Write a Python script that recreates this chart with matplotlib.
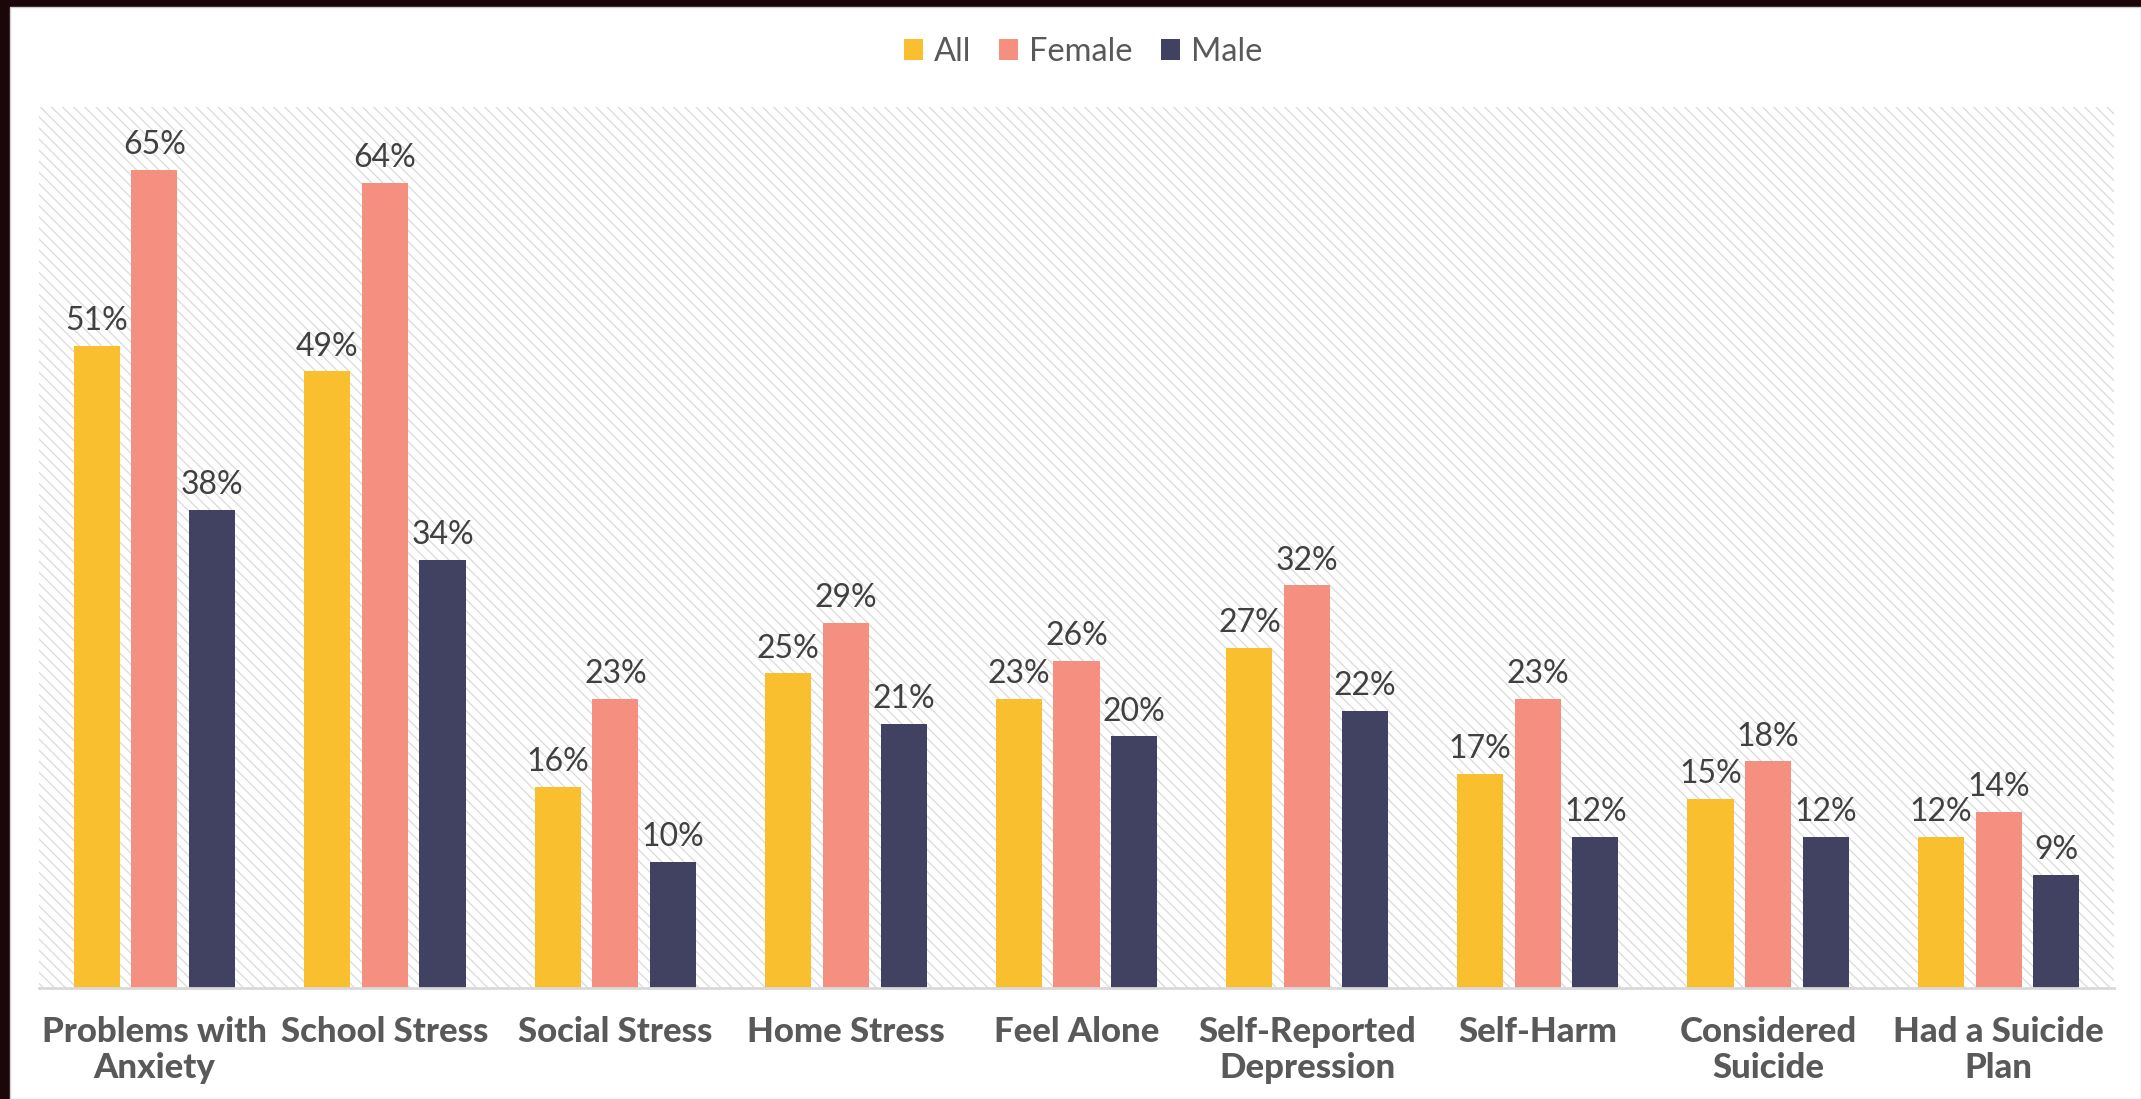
import matplotlib
matplotlib.use("Agg")
import matplotlib.pyplot as plt
from matplotlib.patches import Rectangle
import numpy as np

categories = ["Problems with\nAnxiety", "School Stress", "Social Stress", "Home Stress",
              "Feel Alone", "Self-Reported\nDepression", "Self-Harm",
              "Considered\nSuicide", "Had a Suicide\nPlan"]
series_names = ["All", "Female", "Male"]
all_vals = [51, 49, 16, 25, 23, 27, 17, 15, 12]
female_vals = [65, 64, 23, 29, 26, 32, 23, 18, 14]
male_vals = [38, 34, 10, 21, 20, 22, 12, 12, 9]

colors = ["#FABF2F", "#F58F80", "#414262"]
label_color = "#404040"
axis_text_color = "#595959"

plt.rcParams["font.family"] = ["Lato", "DejaVu Sans"]
plt.rcParams["hatch.linewidth"] = 0.9

W, H, DPI = 2141, 1099, 100
fig = plt.figure(figsize=(W / DPI, H / DPI), dpi=DPI)
fig.patch.set_facecolor("#1b0709")

# white card with a thin grey rim
card = Rectangle((10 / W, 0), 1 - 10 / W, (H - 7) / H, transform=fig.transFigure,
                 facecolor="white", edgecolor="#d0d0d0", linewidth=1.0, zorder=-10)
fig.patches.append(card)

ax = fig.add_axes([39 / W, (H - 988) / H, (2114 - 39) / W, (988 - 107) / H])
ax.set_facecolor("none")
ax.set_zorder(1)

# diagonal hatched plot background
bg = Rectangle((0, 0), 1, 1, transform=ax.transAxes, facecolor="white",
               edgecolor="#dadada", hatch="\\\\\\", linewidth=0, zorder=0)
ax.add_patch(bg)

x = np.arange(len(categories))
width = 0.2
offsets = [-0.25, 0.0, 0.25]
for vals, off, col, name in zip([all_vals, female_vals, male_vals], offsets, colors, series_names):
    bars = ax.bar(x + off, vals, width=width, color=col, label=name, zorder=2)
    for rect, v in zip(bars, vals):
        ax.annotate(f"{v}%", (rect.get_x() + rect.get_width() / 2, rect.get_height()),
                    xytext=(0, 7), textcoords="offset points", ha="center", va="bottom",
                    fontsize=23, color=label_color, zorder=3)

ax.set_xlim(-0.5, len(categories) - 0.5)
ax.set_ylim(0, 70)
ax.set_yticks([])
ax.set_xticks(x)
ax.set_xticklabels(categories, fontsize=25, fontweight="black", color=axis_text_color,
                   linespacing=1.16)
ax.tick_params(axis="x", length=0, pad=20)
for side in ["top", "right", "left"]:
    ax.spines[side].set_visible(False)
ax.spines["bottom"].set_color("#d9d9d9")
ax.spines["bottom"].set_linewidth(2)
ax.spines["bottom"].set_zorder(4)

leg = fig.legend(loc="center", bbox_to_anchor=(1083 / W, 1 - 52 / H), ncol=3, frameon=False,
                 fontsize=23.5, handlelength=0.58, handleheight=0.58, handletextpad=0.35,
                 columnspacing=0.85)
for t in leg.get_texts():
    t.set_color(axis_text_color)

fig.savefig("out.png", dpi=DPI, facecolor=fig.get_facecolor())
